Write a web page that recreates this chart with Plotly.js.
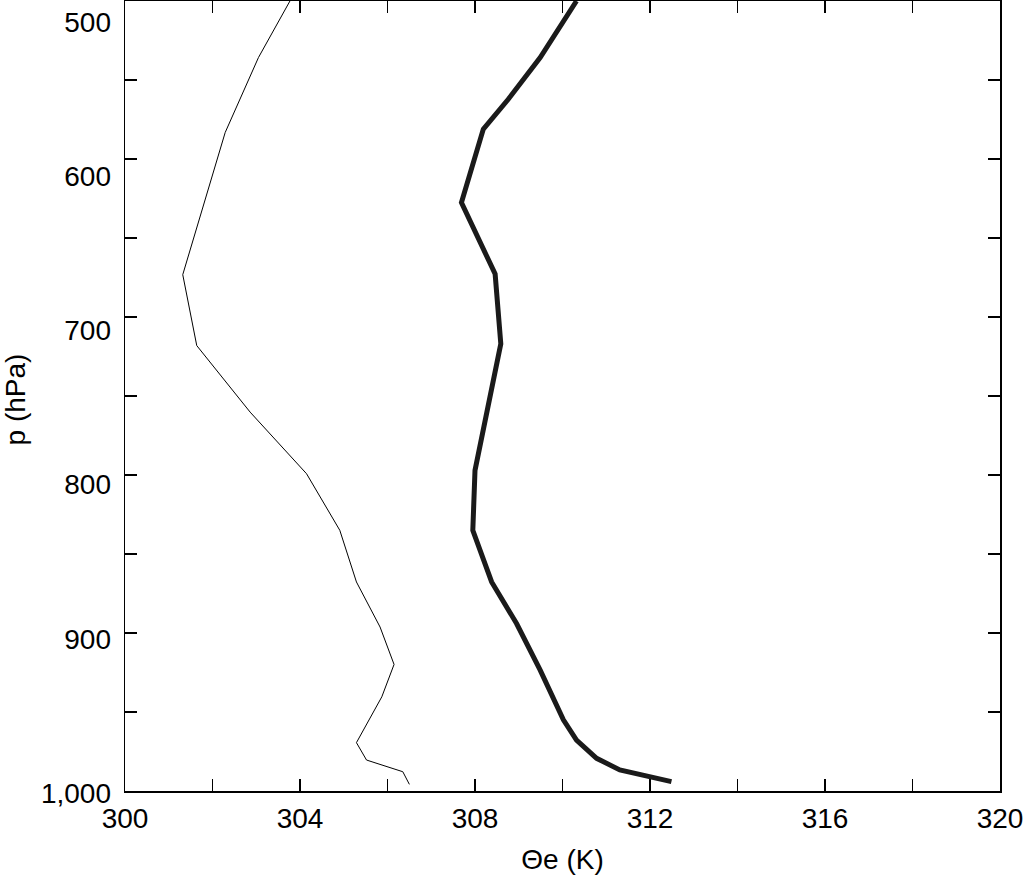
<!DOCTYPE html>
<html>
<head>
<meta charset="utf-8">
<script src="https://cdn.plot.ly/plotly-3.0.1.min.js"></script>
<style>html,body{margin:0;padding:0;background:#fff;}#chart{width:1024px;height:877px;}</style>
</head>
<body>
<div id="chart"></div>
<script>
// Thin profile
const thinTheta = [303.77, 303.05, 302.29, 301.32, 301.64, 302.86, 304.15, 304.91, 305.29, 305.83, 306.15, 305.87, 305.29, 305.52, 306.35, 306.5];
const thinP     = [500, 535.8, 583.2, 673.2, 718.1, 760.2, 799.2, 835, 867.7, 896.2, 919.9, 940.4, 969.4, 980.4, 987.8, 995.8];
// Thick profile
const thickTheta = [310.32, 309.49, 308.76, 308.19, 307.69, 308.46, 308.59, 308.3, 308.0, 307.95, 308.38, 308.95, 309.49, 310.02, 310.32, 310.78, 311.31, 312.49];
const thickP     = [500, 535.8, 562.2, 581.1, 627.5, 672.8, 717, 755, 797.1, 835, 867.7, 894, 923.5, 955, 967.8, 979.3, 986.7, 994.1];
// Axis ticks
const xTickVals = [300, 302, 304, 306, 308, 310, 312, 314, 316, 318, 320];
const xTickText = ['300', '', '304', '', '308', '', '312', '', '316', '', '320'];
const yTickVals = [500, 550, 600, 650, 700, 750, 800, 850, 900, 950, 1000];
const yLabelVals = [500, 600, 700, 800, 900, 1000];
const yLabelText = ['500', '600', '700', '800', '900', '1,000'];

const font = {family: 'Liberation Sans, Arial, Helvetica, sans-serif', size: 28, color: '#000'};

const traces = [
  {x: thinTheta, y: thinP, mode: 'lines', line: {color: '#000', width: 1}, hoverinfo: 'skip'},
  {x: thickTheta, y: thickP, mode: 'lines', line: {color: '#1a1a1a', width: 5}, hoverinfo: 'skip'},
  {x: [], y: [], yaxis: 'y2', mode: 'lines', hoverinfo: 'skip'}
];

const axisCommon = {
  showgrid: false, zeroline: false,
  showline: true, linecolor: '#000', linewidth: 1.5, mirror: 'ticks',
  ticks: 'inside', ticklen: 12, tickwidth: 1.2, tickcolor: '#000',
  tickfont: font, tickmode: 'array'
};

const layout = {
  width: 1024, height: 877,
  margin: {l: 125, r: 24, t: 1, b: 79},
  paper_bgcolor: '#fff', plot_bgcolor: 'rgba(0,0,0,0)',
  showlegend: false,
  font: font,
  xaxis: Object.assign({}, axisCommon, {
    range: [300, 320], tickvals: xTickVals, ticktext: xTickText,
    ticklabelstandoff: 2,
    title: {text: 'Θe (K)', font: font, standoff: 16}
  }),
  yaxis: Object.assign({}, axisCommon, {
    domain: [0.00878, 1],
    range: [1000, 500], tickvals: yTickVals, showticklabels: false
  }),
  yaxis2: {
    anchor: 'x', domain: [0, 1], side: 'left',
    range: [1003.2, 486.38], tickmode: 'array', tickvals: yLabelVals, ticktext: yLabelText,
    showgrid: false, zeroline: false, showline: false, ticks: '',
    tickfont: font, ticklabelstandoff: 13,
    title: {text: 'p (hPa)', font: font, standoff: 29}
  }
};

Plotly.newPlot('chart', traces, layout, {staticPlot: true, displayModeBar: false});
</script>
</body>
</html>
